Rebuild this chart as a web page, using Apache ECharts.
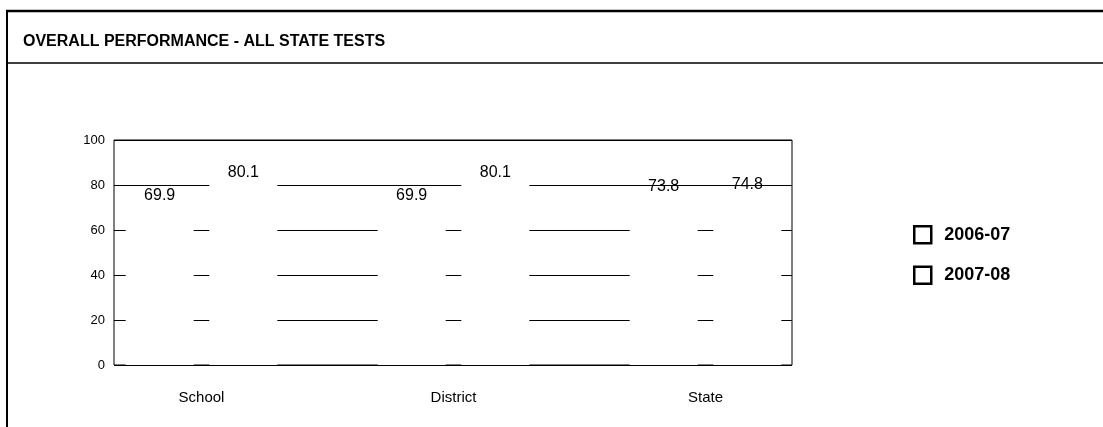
<!DOCTYPE html>
<html>
<head>
<meta charset="utf-8">
<script src="https://cdn.jsdelivr.net/npm/echarts@6/dist/echarts.min.js"></script>
<style>
html,body{margin:0;padding:0;background:#fff;}
#chart{width:1103px;height:427px;}
</style>
</head>
<body>
<div id="chart"></div>
<script>
var titleText = 'OVERALL PERFORMANCE - ALL STATE TESTS';
var categories = ['School', 'District', 'State'];
var seriesNames = ['2006-07', '2007-08'];
var values2006 = [69.9, 69.9, 73.8];
var values2007 = [80.1, 80.1, 74.8];
var yTicks = [0, 20, 40, 60, 80, 100];

var FONT = '"Liberation Sans", Arial, sans-serif';
var chart = echarts.init(document.getElementById('chart'), null, {renderer: 'canvas'});

var labelStyle = {
  show: true, position: 'top', distance: 4,
  color: '#000', fontFamily: FONT, fontSize: 16
};

chart.setOption({
  backgroundColor: '#fff',
  animation: false,
  title: {
    text: titleText, left: 18, top: 29,
    textStyle: {fontFamily: FONT, fontWeight: 'bold', fontSize: 16, color: '#000'}
  },
  legend: {
    orient: 'vertical', left: 908, top: 220,
    itemWidth: 17, itemHeight: 17, itemGap: 21,
    icon: 'rect',
    itemStyle: {color: '#fff', borderColor: '#000', borderWidth: 2.5},
    textStyle: {fontFamily: FONT, fontWeight: 'bold', fontSize: 18, color: '#000', padding: [0, 0, 0, 8]},
    data: seriesNames
  },
  graphic: [
    {type: 'line', shape: {x1: 6, y1: 11, x2: 1103, y2: 11}, style: {stroke: '#000', lineWidth: 2.5}},
    {type: 'line', shape: {x1: 7, y1: 10, x2: 7, y2: 427}, style: {stroke: '#000', lineWidth: 2}},
    {type: 'line', shape: {x1: 7, y1: 63, x2: 1103, y2: 63}, style: {stroke: '#000', lineWidth: 1.5}}
  ],
  grid: [
    {left: 114, right: 311, top: 140, bottom: 62, show: true, borderColor: '#000', borderWidth: 1, backgroundColor: 'transparent'},
    {left: 75.5, right: 271.5, top: 140, bottom: 62}
  ],
  xAxis: [
    {gridIndex: 0, type: 'value', show: false, min: 0, max: 1},
    {gridIndex: 1, type: 'category', data: categories,
     axisLine: {show: false}, axisTick: {show: false},
     axisLabel: {margin: 25, fontFamily: FONT, fontSize: 15, color: '#000'}}
  ],
  yAxis: [
    {gridIndex: 0, type: 'value', min: yTicks[0], max: yTicks[yTicks.length - 1], interval: 20,
     axisLine: {show: false}, axisTick: {show: false},
     axisLabel: {margin: 9, fontFamily: FONT, fontSize: 13, color: '#000'},
     splitLine: {show: true, lineStyle: {color: '#000', width: 1}}},
    {gridIndex: 1, type: 'value', min: 0, max: 100, show: false, splitLine: {show: false}}
  ],
  series: [
    {name: seriesNames[0], type: 'bar', xAxisIndex: 1, yAxisIndex: 1, data: values2006,
     barWidth: 68, barGap: '23%',
     itemStyle: {color: '#fff', borderColor: '#fff', borderWidth: 2},
     label: labelStyle, z: 5},
    {name: seriesNames[1], type: 'bar', xAxisIndex: 1, yAxisIndex: 1, data: values2007,
     barWidth: 68, barGap: '23%',
     itemStyle: {color: '#fff', borderColor: '#fff', borderWidth: 2},
     label: labelStyle, z: 5}
  ]
});
</script>
</body>
</html>
